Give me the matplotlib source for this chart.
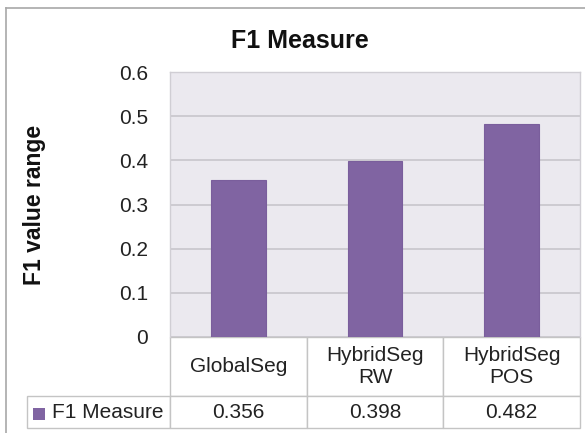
import matplotlib
matplotlib.use("Agg")
import matplotlib.pyplot as plt
from matplotlib.patches import Rectangle
from matplotlib.lines import Line2D
from matplotlib.table import Table

categories = ["GlobalSeg", "HybridSeg\nRW", "HybridSeg\nPOS"]
values = [0.356, 0.398, 0.482]
value_labels = ["0.356", "0.398", "0.482"]
series_name = "F1 Measure"
yticks = [0, 0.1, 0.2, 0.3, 0.4, 0.5, 0.6]
ytick_labels = ["0", "0.1", "0.2", "0.3", "0.4", "0.5", "0.6"]
title = "F1 Measure"
ylabel = "F1 value range"

plt.rcParams['font.family'] = ['Liberation Sans', 'DejaVu Sans']

W, H = 585, 433
fig = plt.figure(figsize=(W / 100, H / 100), dpi=100)
fig.patch.set_facecolor('white')

def fx(px):
    return px / W

def fy(py):
    return 1 - py / H

# outer chart border (top & left visible)
fig.add_artist(Line2D([fx(6), 1.0], [fy(8), fy(8)], color='#a8a8a8', lw=1.2))
fig.add_artist(Line2D([fx(6), fx(6)], [fy(8), 0.0], color='#a8a8a8', lw=1.2))

pl, pr, pt, pb = 170, 580, 72, 337
ax = fig.add_axes([fx(pl), fy(pb), fx(pr) - fx(pl), fy(pt) - fy(pb)])
ax.set_facecolor('#ebe9ef')
x = list(range(len(categories)))
ax.bar(x, values, width=0.4, color='#8064a2', edgecolor='#7a5e9c', linewidth=0.8, zorder=3)
ax.set_xlim(-0.5, len(categories) - 0.5)
ax.set_ylim(0, 0.6)
ax.set_yticks(yticks)
ax.set_yticklabels(ytick_labels, fontsize=15, color='#222222')
ax.tick_params(axis='y', length=0, pad=16)
ax.set_xticks([])
ax.grid(axis='y', color='#c8c6cc', lw=1.2, zorder=1)
ax.set_axisbelow(True)
for s in ['left', 'right', 'top']:
    ax.spines[s].set_color('#d0ced4')
    ax.spines[s].set_linewidth(1)
ax.spines['bottom'].set_visible(False)

# data table
tl, tb = 27, 428
hdr_h, row_h = 59, 32
axw, axh = pr - pl, pb - pt
lab_px = pl - tl
lab_w = lab_px / axw
col_w = 1.0 / len(categories)
bbox = [0, -(tb - pb) / axh, 1, (tb - pb) / axh]
tbl = Table(ax, bbox=bbox)
edge = '#c4c4c4'
for j, cat in enumerate(categories):
    tbl.add_cell(0, j, width=col_w, height=hdr_h / axh, text=cat, loc='center',
                 facecolor='white', edgecolor=edge)
    tbl.add_cell(1, j, width=col_w, height=row_h / axh, text=value_labels[j],
                 loc='center', facecolor='white', edgecolor=edge)
lab = tbl.add_cell(1, -1, width=lab_w, height=row_h / axh, text=series_name,
                   loc='left', facecolor='white', edgecolor=edge)
lab.PAD = (52 - tl) / lab_px
tbl.auto_set_font_size(False)
tbl.set_fontsize(15)
for (r, c), cell in tbl.get_celld().items():
    cell.set_linewidth(1)
    cell.get_text().set_color('#222222')
ax.add_table(tbl)

# legend key in table row label
fig.add_artist(Rectangle((fx(33), fy(420)), fx(12), fy(408) - fy(420),
                         facecolor='#8064a2', edgecolor='none'))

fig.text(fx(300), fy(41), title, ha='center', va='center', fontsize=18,
         fontweight='bold', color='#111111')
fig.text(fx(35), fy(205), ylabel, ha='center', va='center', rotation=90,
         fontsize=16.5, fontweight='bold', color='#111111')

fig.savefig('out.png', dpi=100, facecolor='white')
